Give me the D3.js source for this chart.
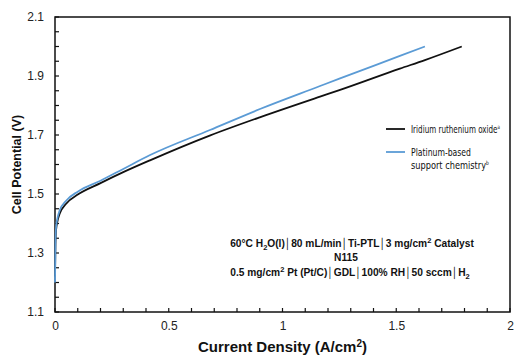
<!DOCTYPE html>
<meta charset="utf-8">
<style>
body { margin: 0; background: #fff; }
svg { display: block; }
.tick text { font-family: Arial, "Liberation Sans", sans-serif; font-size: 12px; fill: #222; }
.lbl { font-family: Arial, "Liberation Sans", sans-serif; font-weight: bold; fill: #111; }
.leg { font-family: "Liberation Sans Narrow", "DejaVu Sans Condensed", sans-serif; fill: #111; font-size: 11px; }
</style>
<script src="https://cdn.jsdelivr.net/npm/d3@7"></script>
<body>
<svg id="chart" width="525" height="358"></svg>
<script>
// current density (A/cm2) and cell potential (V)
var iroxJ = [0, 0.002, 0.005, 0.01, 0.02, 0.05, 0.1, 0.2, 0.3, 0.42, 0.68, 0.9, 1.165, 1.25, 1.516, 1.626, 1.788];
var iroxV = [1.22, 1.33, 1.38, 1.405, 1.432, 1.468, 1.498, 1.537, 1.574, 1.615, 1.698, 1.760, 1.830, 1.852, 1.925, 1.954, 2.0];

var ptJ = [0, 0.002, 0.005, 0.01, 0.02, 0.05, 0.1, 0.2, 0.3, 0.418, 0.681, 0.901, 1.165, 1.253, 1.516, 1.626];
var ptV = [1.2, 1.34, 1.39, 1.415, 1.443, 1.478, 1.508, 1.545, 1.585, 1.632, 1.717, 1.788, 1.866, 1.892, 1.968, 2.0];

var xTicks = [0, 0.5, 1, 1.5, 2];
var yTicks = [1.1, 1.3, 1.5, 1.7, 1.9, 2.1];

var margin = {left: 55, top: 17, right: 15, bottom: 46};
var width = 525, height = 358;

var svg = d3.select("#chart");

var x = d3.scaleLinear().domain([0, 2]).range([margin.left, width - margin.right]);
var y = d3.scaleLinear().domain([1.1, 2.1]).range([height - margin.bottom, margin.top]);

// minor ticks (inside)
var g = svg.append("g");
d3.range(0, 2.0001, 0.1).forEach(function(v) {
  g.append("line").attr("x1", x(v)).attr("x2", x(v))
    .attr("y1", y(1.1)).attr("y2", y(1.1) - 4)
    .attr("stroke", "#111").attr("stroke-width", 1.2);
});
d3.range(1.1, 2.1001, 0.05).forEach(function(v) {
  g.append("line").attr("x1", x(0)).attr("x2", x(0) + 4)
    .attr("y1", y(v)).attr("y2", y(v))
    .attr("stroke", "#111").attr("stroke-width", 1.2);
});

// axes (labels only)
var xAxis = svg.append("g").attr("transform", "translate(0," + y(1.1) + ")")
  .call(d3.axisBottom(x).tickValues(xTicks).tickSize(0).tickPadding(9).tickFormat(d3.format("")));
xAxis.select(".domain").remove();

var yAxis = svg.append("g").attr("transform", "translate(" + x(0) + ",0)")
  .call(d3.axisLeft(y).tickValues(yTicks).tickSize(0).tickPadding(11).tickFormat(d3.format(".1f")));
yAxis.select(".domain").remove();

// frame
svg.append("rect").attr("x", x(0)).attr("y", y(2.1))
  .attr("width", x(2) - x(0)).attr("height", y(1.1) - y(2.1))
  .attr("fill", "none").attr("stroke", "#111").attr("stroke-width", 1.5);

var line = d3.line()
  .x(function(d) { return x(d[0]); })
  .y(function(d) { return y(d[1]); })
  .curve(d3.curveMonotoneX);

svg.append("path").datum(d3.zip(iroxJ, iroxV))
  .attr("d", line).attr("fill", "none").attr("stroke", "#111").attr("stroke-width", 1.8);
svg.append("path").datum(d3.zip(ptJ, ptV))
  .attr("d", line).attr("fill", "none").attr("stroke", "#5b9bd5").attr("stroke-width", 1.8);

// axis titles
svg.append("text").attr("class", "lbl").attr("font-size", 15)
  .attr("text-anchor", "middle").attr("x", (x(0) + x(2)) / 2).attr("y", 352)
  .html('Current Density (A/cm<tspan dy="-5" font-size="10">2</tspan><tspan dy="5">)</tspan>');
svg.append("text").attr("class", "lbl").attr("font-size", 12.5)
  .attr("text-anchor", "middle").attr("transform", "translate(21," + y(1.6) + ") rotate(-90)")
  .text("Cell Potential (V)");

// legend - narrow text squeezed to the width seen in the picture
function legText(px, py, html, w) {
  var t = svg.append("text").attr("class", "leg").html(html);
  var len = t.node().getComputedTextLength();
  t.attr("transform", "translate(" + px + "," + py + ") scale(" + (w / len) + ",1)");
}
svg.append("line").attr("x1", 386).attr("x2", 405).attr("y1", 129).attr("y2", 129)
  .attr("stroke", "#111").attr("stroke-width", 1.8);
legText(411, 133, 'Iridium ruthenium oxide<tspan dy="-4" style="font-size:6px">a</tspan>', 89);
svg.append("line").attr("x1", 386).attr("x2", 405).attr("y1", 152).attr("y2", 152)
  .attr("stroke", "#5b9bd5").attr("stroke-width", 1.8);
legText(411, 156, 'Platinum-based', 60);
legText(411, 169, 'support chemistry<tspan dy="-4" style="font-size:6px">b</tspan>', 78);

// test conditions
var note = svg.append("g").attr("class", "lbl").attr("font-size", 10.2).attr("text-anchor", "middle");
note.append("text").attr("x", 352).attr("y", 247)
  .html('60°C H<tspan dy="3" font-size="7.5">2</tspan><tspan dy="-3">O(l)│80 mL/min│Ti-PTL│3 mg/cm</tspan><tspan dy="-4" font-size="7.5">2</tspan><tspan dy="4">  Catalyst</tspan>');
note.append("text").attr("x", 346).attr("y", 261).text("N115");
note.append("text").attr("x", 350).attr("y", 276)
  .html('0.5 mg/cm<tspan dy="-4" font-size="7.5">2</tspan><tspan dy="4">  Pt (Pt/C)│GDL│100%  RH│50 sccm│H</tspan><tspan dy="3" font-size="7.5">2</tspan>');
</script>
</body>
